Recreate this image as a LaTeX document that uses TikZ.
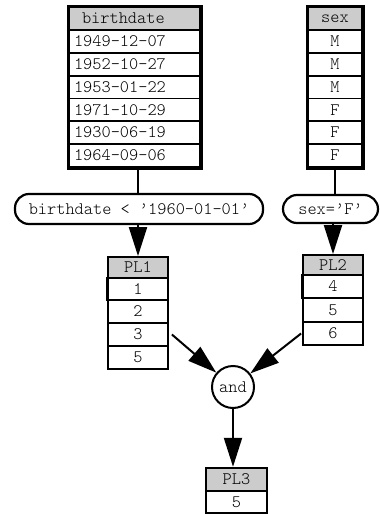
\documentclass[tikz,border=0pt]{standalone}
\usepackage{fontspec}
\setmonofont{Latin Modern Mono Light}
\usetikzlibrary{arrows.meta}
\definecolor{hdrgray}{RGB}{204,204,204}
\begin{document}
\begin{tikzpicture}[x=1pt,y=-1pt,
  every node/.style={font=\ttfamily\fontsize{17.5}{20}\selectfont},
  cell/.style={draw, line width=1.8pt, rectangle, inner sep=0pt, fill=white},
  hdr/.style={cell, fill=hdrgray},
  thickcell/.style={cell, line width=2.8pt},
  frame/.style={draw, line width=2.8pt},
  pill/.style={draw, line width=2.2pt, rounded corners=14pt, fill=white, inner sep=0pt},
  link/.style={line width=2pt},
  arr/.style={line width=2pt, -{Triangle[length=29pt,width=18pt]}},
  leftcell/.style={cell, text width=121pt, inner xsep=5pt, align=left}
]
\useasboundingbox (0,0) rectangle (380,514);

% birthdate column
\node[hdr, minimum width=131, minimum height=23, text width=121pt, inner xsep=5pt, align=left] (bd0) at (134.5,18.5) {\hspace{8pt}birthdate};
\node[leftcell, minimum width=131, minimum height=22.8] (bd1) at (134.5,41.4) {1949-12-07};
\node[leftcell, minimum width=131, minimum height=22.8] (bd2) at (134.5,64.2) {1952-10-27};
\node[leftcell, minimum width=131, minimum height=22.8] (bd3) at (134.5,87.0) {1953-01-22};
\node[leftcell, minimum width=131, minimum height=22.8] (bd4) at (134.5,109.8) {1971-10-29};
\node[leftcell, minimum width=131, minimum height=22.8] (bd5) at (134.5,132.6) {1930-06-19};
\node[leftcell, line width=2.8pt, minimum width=131, minimum height=23] (bd6) at (134.5,155.5) {1964-09-06};
\draw[frame] (bd0.north west) rectangle (bd6.south east);

% sex column
\node[hdr, minimum width=54, minimum height=23] (sx0) at (335,18.5) {sex};
\node[cell, minimum width=54, minimum height=22.8] (sx1) at (335,41.4) {M};
\node[cell, minimum width=54, minimum height=22.8] (sx2) at (335,64.2) {M};
\node[cell, minimum width=54, minimum height=22.8] (sx3) at (335,87.0) {M};
\node[cell, minimum width=54, minimum height=22.8] (sx4) at (335,109.8) {F};
\node[cell, minimum width=54, minimum height=22.8] (sx5) at (335,132.6) {F};
\node[thickcell, minimum width=54, minimum height=23] (sx6) at (335,155.5) {F};
\draw[frame] (sx0.north west) rectangle (sx6.south east);

% selection predicates
\node[pill, minimum width=248, minimum height=30] (p1) at (139,209) {birthdate < ’1960-01-01’};
\node[pill, minimum width=95, minimum height=28] (p2) at (330.5,209) {sex=’F’};

% posting list PL1
\node[hdr, minimum width=60, minimum height=21] (pl1h) at (138,267.5) {PL1};
\node[cell, minimum width=60, minimum height=22] (pl1a) at (138,289) {1};
\node[cell, minimum width=60, minimum height=23] (pl1b) at (138,311.5) {2};
\node[cell, minimum width=60, minimum height=23] (pl1c) at (138,334.5) {3};
\node[thickcell, minimum width=60, minimum height=23] (pl1d) at (138,357.5) {5};
\draw[line width=2.8pt] (pl1a.north west) -- (pl1a.south west);

% posting list PL2
\node[hdr, minimum width=60, minimum height=20] (pl2h) at (333,265) {PL2};
\node[cell, minimum width=60, minimum height=23] (pl2a) at (333,286.5) {4};
\node[cell, minimum width=60, minimum height=24] (pl2b) at (333,310) {5};
\node[cell, minimum width=60, minimum height=23] (pl2c) at (333,333.5) {6};
\draw[line width=2.8pt] (pl2a.north west) -- (pl2a.south west);

% intersection
\node[draw, circle, line width=2pt, minimum size=42, inner sep=0pt, fill=white] (and) at (233,387) {and};

% result PL3
\node[hdr, minimum width=61, minimum height=23, line width=2.4pt] (pl3h) at (236.5,479.5) {PL3};
\node[cell, minimum width=61, minimum height=22, line width=2.4pt] (pl3a) at (236.5,502) {5};

% connectors
\draw[link] (bd6.south -| pl1h.north) -- (p1.north -| pl1h.north);
\draw[link] (sx6.south) -- (sx6.south |- p2.north);
\draw[arr] (p1.south -| pl1h.north) -- (pl1h.north);
\draw[arr] (p2.south -| pl2h.north) -- (pl2h.north);
\draw[arr] ([xshift=3pt]pl1c.east) -- (and);
\draw[arr] ([xshift=-1pt]pl2c.west) -- (and);
\draw[arr] (and.south) -- (and.south |- pl3h.north);
\end{tikzpicture}
\end{document}
